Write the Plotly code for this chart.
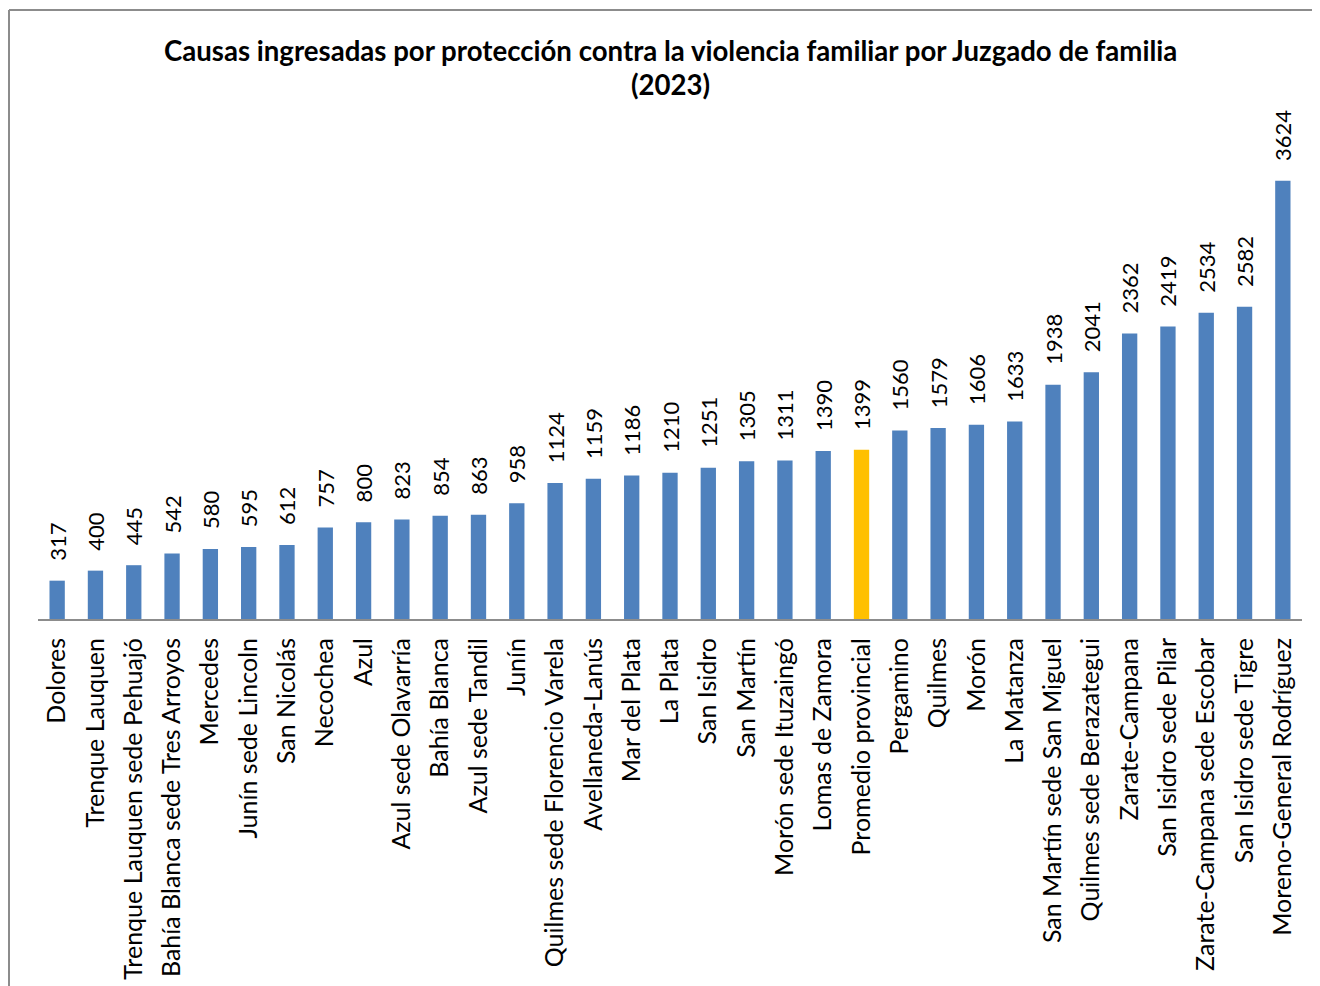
import plotly.graph_objects as go

categories = [
    "Dolores", "Trenque Lauquen", "Trenque Lauquen sede Pehuajó",
    "Bahía Blanca sede Tres Arroyos", "Mercedes", "Junín sede Lincoln",
    "San Nicolás", "Necochea", "Azul", "Azul sede Olavarría", "Bahía Blanca",
    "Azul sede Tandil", "Junín", "Quilmes sede Florencio Varela",
    "Avellaneda-Lanús", "Mar del Plata", "La Plata", "San Isidro", "San Martín",
    "Morón sede Ituzaingó", "Lomas de Zamora", "Promedio provincial",
    "Pergamino", "Quilmes", "Morón", "La Matanza", "San Martín sede San Miguel",
    "Quilmes sede Berazategui", "Zarate-Campana", "San Isidro sede Pilar",
    "Zarate-Campana sede Escobar", "San Isidro sede Tigre",
    "Moreno-General Rodríguez",
]
values = [317, 400, 445, 542, 580, 595, 612, 757, 800, 823, 854, 863, 958,
          1124, 1159, 1186, 1210, 1251, 1305, 1311, 1390, 1399, 1560, 1579,
          1606, 1633, 1938, 2041, 2362, 2419, 2534, 2582, 3624]
highlight = "Promedio provincial"

title_lines = [
    "Causas ingresadas por protección contra la violencia familiar por Juzgado de familia",
    "(2023)",
]

BLUE = "#4F81BD"
GOLD = "#FFC000"
colors = [GOLD if c == highlight else BLUE for c in categories]

W, H = 1320, 986
ML, MR, MT, MB = 30, 26, 102, 375

fig = go.Figure(go.Bar(
    x=categories, y=values,
    marker=dict(color=colors, line=dict(width=0)),
    text=["\u00a0\u00a0\u00a0" + str(v) for v in values],
    textposition="outside", textangle=-90,
    constraintext="none", cliponaxis=False,
    textfont=dict(family="Lato", size=22, color="black"),
    hoverinfo="skip",
))

pw = W - ML - MR
ph = H - MT - MB
def px(x):
    return (x - ML) / pw
def py(y):
    return (H - MB - y) / ph

annotations = [
    dict(text=line, xref="paper", yref="paper", x=px(662), y=py(yc),
         xanchor="center", yanchor="middle", showarrow=False,
         font=dict(family="Lato", size=27.6, color="black", weight="bold"))
    for line, yc in zip(title_lines, [42, 77])
]

fig.update_layout(
    width=W, height=H,
    margin=dict(l=ML, r=MR, t=MT, b=MB, autoexpand=False),
    paper_bgcolor="white", plot_bgcolor="white",
    bargap=0.6, showlegend=False,
    font=dict(family="Lato", color="black"),
    annotations=annotations,
    xaxis=dict(tickangle=-90, tickfont=dict(family="Lato", size=25, color="black"),
               showline=True, linecolor="#8C8C8C", linewidth=2, ticks="",
               ticklabelstandoff=7, showgrid=False, zeroline=False,
               automargin=False),
    yaxis=dict(range=[0, 4210], visible=False, showgrid=False, zeroline=False,
               automargin=False),
    shapes=[
        dict(type="line", xref="paper", yref="paper", x0=px(1), x1=px(1),
             y0=py(2), y1=py(H + 5), line=dict(color="#8C8C8C", width=2)),
        dict(type="line", xref="paper", yref="paper", x0=px(1), x1=px(W + 5),
             y0=py(2), y1=py(2), line=dict(color="#8C8C8C", width=2)),
    ],
)

fig.write_html("out.html")
